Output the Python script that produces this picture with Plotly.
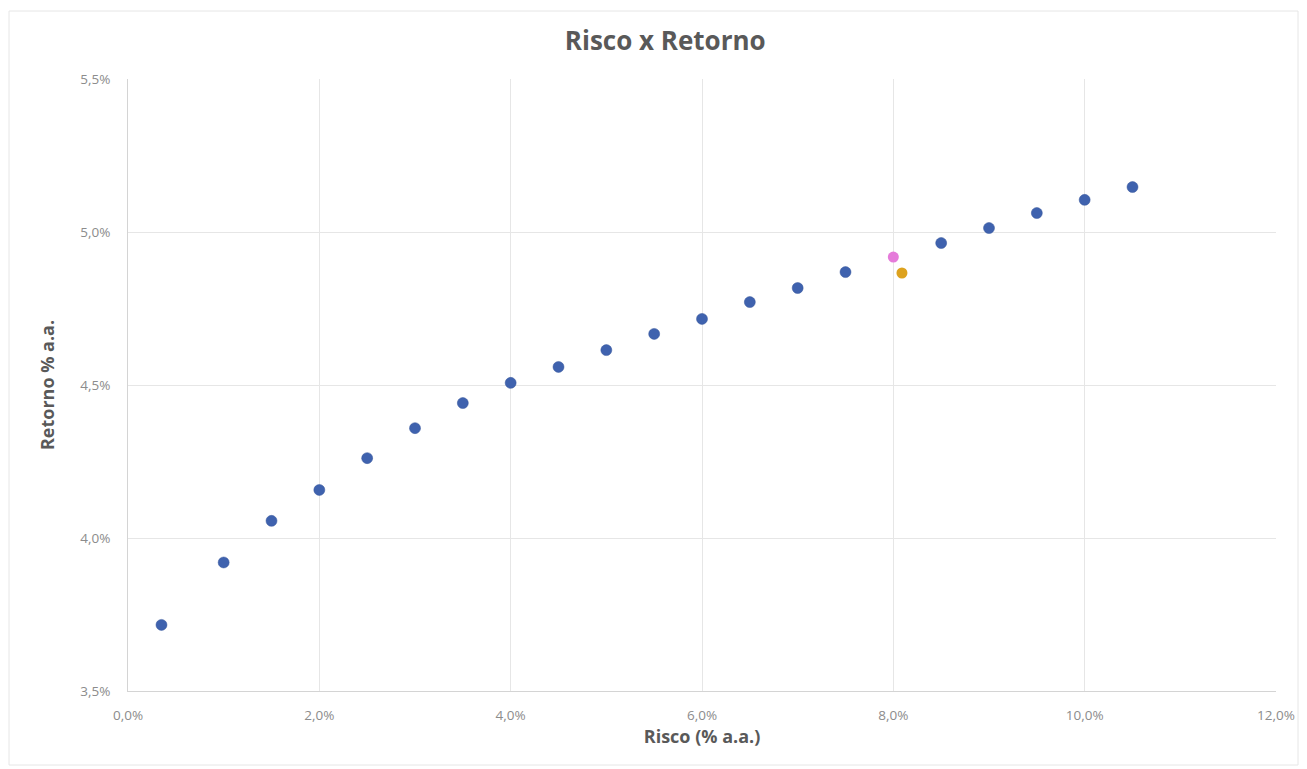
import plotly.graph_objects as go

risco = [0.35, 1.0, 1.5, 2.0, 2.5, 3.0, 3.5, 4.0, 4.5, 5.0, 5.5, 6.0, 6.5, 7.0, 7.5,
         8.5, 9.0, 9.5, 10.0, 10.5]
retorno = [3.716, 3.92, 4.056, 4.157, 4.261, 4.359, 4.441, 4.507, 4.559, 4.614,
           4.667, 4.716, 4.771, 4.817, 4.869, 4.964, 5.013, 5.062, 5.105, 5.147]
rosa_x = [8.0]
rosa_y = [4.918]
laranja_x = [8.09]
laranja_y = [4.866]

x_ticks = [0, 2, 4, 6, 8, 10, 12]
y_ticks = [3.5, 4.0, 4.5, 5.0, 5.5]
x_ticktext = [f"{v:.1f}%".replace(".", ",") for v in x_ticks]
y_ticktext = [f"{v:.1f}%".replace(".", ",") for v in y_ticks]

fig = go.Figure()
fig.add_trace(go.Scatter(x=risco, y=retorno, mode="markers",
                         marker=dict(color="#3F62AE", size=11,
                                     line=dict(color="#34549A", width=0.5)),
                         showlegend=False))
fig.add_trace(go.Scatter(x=rosa_x, y=rosa_y, mode="markers",
                         marker=dict(color="#E57BDA", size=11),
                         showlegend=False))
fig.add_trace(go.Scatter(x=laranja_x, y=laranja_y, mode="markers",
                         marker=dict(color="#DDA21E", size=11),
                         showlegend=False))

tick_font = dict(family="Open Sans, sans-serif", size=13.5, color="#8c8c8c")
title_font = dict(family="Open Sans, sans-serif", size=18, color="#595959")

fig.update_layout(
    width=1307, height=769,
    margin=dict(l=128, r=31, t=79, b=78),
    paper_bgcolor="white", plot_bgcolor="white",
    font=dict(family="Open Sans, sans-serif", color="#8c8c8c", size=13),
    title=dict(text="<b>Risco x Retorno</b>", x=0.509, xanchor="center", y=0.947,
               yanchor="middle",
               font=dict(family="Open Sans, sans-serif", size=26, color="#595959")),
    xaxis=dict(range=[0, 12], tickvals=x_ticks, ticktext=x_ticktext,
               tickfont=tick_font,
               showgrid=True, gridcolor="#e6e6e6", zeroline=False,
               showline=True, linecolor="#d4d4d4", linewidth=1,
               ticks="", ticklen=0, ticklabelstandoff=12,
               title=dict(text="<b>Risco (% a.a.)</b>", standoff=6, font=title_font)),
    yaxis=dict(range=[3.5, 5.5], tickvals=y_ticks, ticktext=y_ticktext,
               tickfont=tick_font,
               showgrid=True, gridcolor="#e6e6e6", zeroline=False,
               showline=True, linecolor="#d4d4d4", linewidth=1,
               ticks="", ticklen=0, ticklabelstandoff=14,
               title=dict(text="<b>Retorno % a.a.</b>", standoff=20, font=title_font)),
    shapes=[dict(type="rect", xref="paper", yref="paper",
                 x0=-119/1148, x1=1 + 22/1148, y0=-74/612, y1=1 + 68/612,
                 line=dict(color="#e6e6e6", width=1), layer="below")]
)

fig.write_html("out.html")
